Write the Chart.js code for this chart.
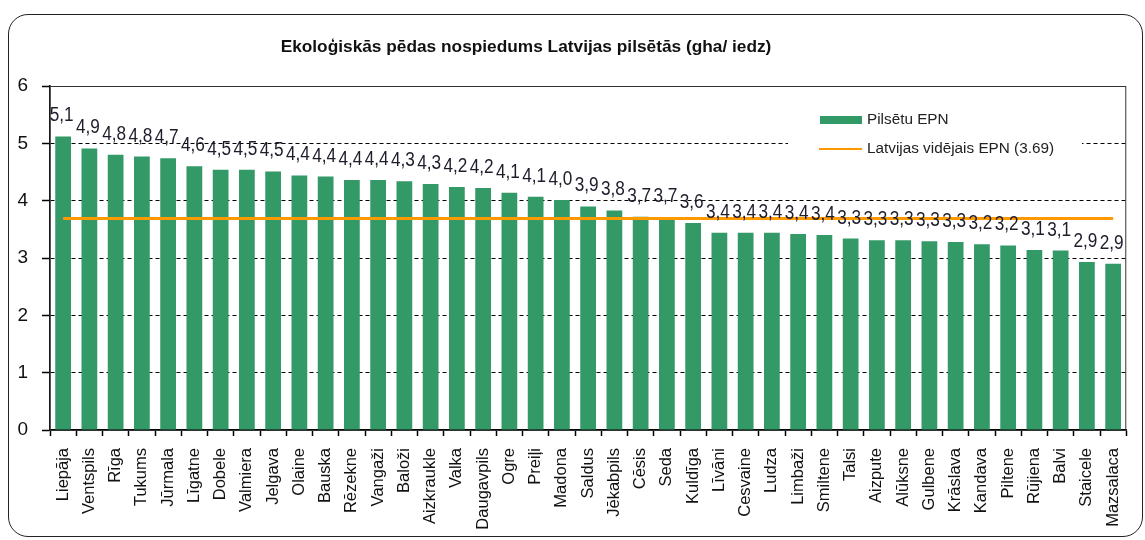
<!DOCTYPE html>
<html>
<head>
<meta charset="utf-8">
<title>Ekoloģiskās pēdas nospiedums Latvijas pilsētās</title>
<script src="https://cdn.jsdelivr.net/npm/chart.js@4.4.1/dist/chart.umd.min.js"></script>
<style>
  html, body { margin: 0; padding: 0; background: #fff; }
  #box { position: relative; width: 1145px; height: 540px; }
  #frame {
    position: absolute; left: 8px; top: 14px; width: 1133px; height: 521px;
    border: 1.5px solid #222; border-radius: 20px; pointer-events: none;
  }
</style>
</head>
<body>
<div id="box">
  <canvas id="epnChart"></canvas>
  <div id="frame"></div>
</div>
<script>
  // Data
  const cities = [
    'Liepāja', 'Ventspils', 'Rīga', 'Tukums', 'Jūrmala', 'Līgatne', 'Dobele', 'Valmiera',
    'Jelgava', 'Olaine', 'Bauska', 'Rēzekne', 'Vangaži', 'Baloži', 'Aizkraukle', 'Valka',
    'Daugavpils', 'Ogre', 'Preiļi', 'Madona', 'Saldus', 'Jēkabpils', 'Cēsis', 'Seda',
    'Kuldīga', 'Līvāni', 'Cesvaine', 'Ludza', 'Limbaži', 'Smiltene', 'Talsi', 'Aizpute',
    'Alūksne', 'Gulbene', 'Krāslava', 'Kandava', 'Piltene', 'Rūjiena', 'Balvi', 'Staicele',
    'Mazsalaca'
  ];
  const cityEPN = [
    5.12, 4.91, 4.80, 4.77, 4.74, 4.60, 4.54, 4.54,
    4.51, 4.44, 4.42, 4.36, 4.36, 4.34, 4.29, 4.24,
    4.22, 4.14, 4.07, 4.01, 3.90, 3.83, 3.72, 3.71,
    3.61, 3.44, 3.44, 3.44, 3.42, 3.40, 3.34, 3.31,
    3.31, 3.29, 3.28, 3.24, 3.22, 3.14, 3.13, 2.93,
    2.90
  ];
  const latviaAvg = 3.69;
  const yTicks = [0, 1, 2, 3, 4, 5, 6];

  const chartTitle = 'Ekoloģiskās pēdas nospiedums Latvijas pilsētās (gha/ iedz)';
  const barLabel = 'Pilsētu EPN';
  const avgLabel = 'Latvijas vidējais EPN (3.69)';

  const FONT = "'Liberation Sans', Arial, sans-serif";
  const GREEN = '#339966';
  const ORANGE = '#ff9900';

  Chart.defaults.font.family = FONT;
  Chart.defaults.color = '#111';

  const fmt = v => v.toFixed(1).replace('.', ',');

  // Title, placed like in the original (a bit left of centre)
  const titlePlugin = {
    id: 'sideTitle',
    afterDraw(c) {
      const ctx = c.ctx;
      ctx.save();
      ctx.font = 'bold 17.3px ' + FONT;
      ctx.fillStyle = '#111';
      ctx.textAlign = 'center';
      ctx.textBaseline = 'alphabetic';
      ctx.fillText(chartTitle, 526, 51.5);
      ctx.restore();
    }
  };

  // Plot area border (top + right lines)
  const plotFrame = {
    id: 'plotFrame',
    beforeDatasetsDraw(c) {
      const { ctx, chartArea: a } = c;
      ctx.save();
      ctx.strokeStyle = '#333';
      ctx.lineWidth = 1;
      ctx.strokeRect(a.left, a.top + 0.5, a.right - a.left - 0.5, a.bottom - a.top);
      ctx.restore();
    }
  };

  // Value labels above bars (narrow, like the Excel original)
  const valueLabels = {
    id: 'valueLabels',
    afterDatasetsDraw(c) {
      const ctx = c.ctx;
      const meta = c.getDatasetMeta(0);
      const sx = 0.86;
      ctx.save();
      ctx.font = '20px ' + FONT;
      ctx.fillStyle = '#1d1d2b';
      ctx.textAlign = 'center';
      ctx.textBaseline = 'alphabetic';
      meta.data.forEach((bar, i) => {
        ctx.save();
        ctx.translate(bar.x - 1.5, bar.y - 15);
        ctx.scale(sx, 1);
        ctx.fillText(fmt(cityEPN[i]), 0, 0);
        ctx.restore();
      });
      ctx.restore();
    }
  };

  // Legend box inside the plot, top right
  const boxLegend = {
    id: 'boxLegend',
    afterDraw(c) {
      const ctx = c.ctx;
      const ds = c.data.datasets;
      ctx.save();
      ctx.fillStyle = '#fff';
      ctx.fillRect(788, 100, 294, 65);
      ctx.font = '15.3px ' + FONT;
      ctx.textAlign = 'left';
      ctx.textBaseline = 'middle';
      // bars
      ctx.fillStyle = ds[0].backgroundColor;
      ctx.fillRect(820, 116, 42, 8);
      ctx.fillStyle = '#222';
      ctx.fillText(ds[0].label, 867, 119.5);
      // average line
      ctx.strokeStyle = ds[1].borderColor;
      ctx.lineWidth = 2;
      ctx.beginPath();
      ctx.moveTo(819, 149);
      ctx.lineTo(862, 149);
      ctx.stroke();
      ctx.fillText(ds[1].label, 867, 148.5);
      ctx.restore();
    }
  };

  const chart = new Chart(document.getElementById('epnChart'), {
    type: 'bar',
    data: {
      labels: cities,
      datasets: [
        {
          type: 'bar',
          label: barLabel,
          data: cityEPN,
          backgroundColor: GREEN,
          borderWidth: 0,
          barPercentage: 0.6,
          categoryPercentage: 1.0,
          order: 2
        },
        {
          type: 'line',
          label: avgLabel,
          data: cities.map(() => latviaAvg),
          borderColor: ORANGE,
          borderWidth: 3,
          pointRadius: 0,
          fill: false,
          tension: 0,
          order: 1
        }
      ]
    },
    options: {
      responsive: true,
      maintainAspectRatio: false,
      animation: false,
      layout: {
        padding: { top: 86, right: 4, left: 0, bottom: 0 }
      },
      plugins: {
        legend: { display: false },
        title: { display: false },
        tooltip: { enabled: false }
      },
      scales: {
        x: {
          afterFit(scale) { scale.height = 110; },
          grid: {
            display: true,
            drawOnChartArea: false,
            drawTicks: true,
            tickLength: 6,
            tickColor: '#000',
            tickWidth: 1.5,
            offset: true
          },
          border: { display: true, color: '#000', width: 1.5 },
          ticks: {
            autoSkip: false,
            minRotation: 90,
            maxRotation: 90,
            padding: 12,
            color: '#111',
            font: { size: 16.5 }
          }
        },
        y: {
          min: 0,
          max: 6,
          afterFit(scale) { scale.width = 50; },
          afterBuildTicks(scale) { scale.ticks = yTicks.map(v => ({ value: v })); },
          grid: {
            color: ctx => (ctx.tick && (ctx.tick.value === 0 || ctx.tick.value === 6)) ? 'rgba(0,0,0,0)' : '#000',
            lineWidth: 1,
            drawTicks: true,
            tickLength: 8,
            tickColor: '#000',
            tickWidth: 1.5
          },
          border: { display: true, color: '#000', width: 1.5, dash: [4, 3] },
          ticks: {
            padding: 14,
            color: '#111',
            font: { size: 19 }
          }
        }
      }
    },
    plugins: [plotFrame, valueLabels, boxLegend, titlePlugin]
  });
</script>
</body>
</html>
